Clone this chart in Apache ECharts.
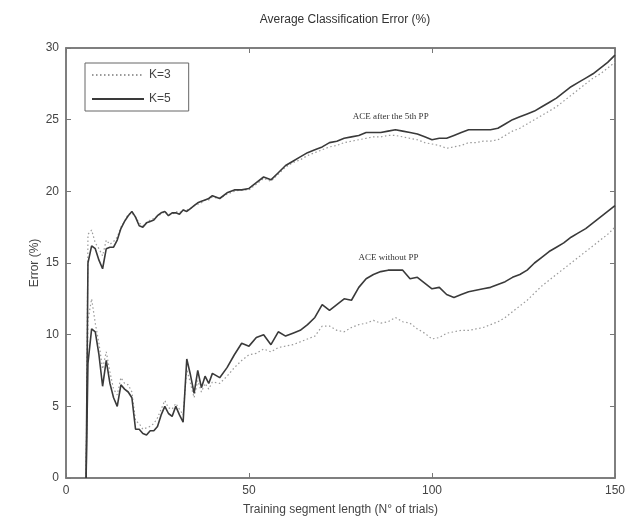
<!DOCTYPE html>
<html>
<head>
<meta charset="utf-8">
<script src="https://cdn.jsdelivr.net/npm/echarts@6/dist/echarts.min.js"></script>
<style>html,body{margin:0;padding:0;background:#fff;}#c{width:628px;height:527px;}</style>
</head>
<body>
<div id="c"></div>
<script>
const xVals = [5.5,6,7,8,9,10,11,12,13,14,15,16,17,18,19,20,21,22,23,24,25,26,27,28,29,30,31,32,33,34,35,36,37,38,39,40,
  42,44,46,48,50,52,54,56,58,60,62,64,66,68,70,72,74,76,78,80,82,84,86,88,90,92,94,96,98,100,102,104,106,108,110,
  112,114,116,118,120,122,124,126,128,130,132,134,136,138,140,142,144,146,148,150];

const upperK5 = [0,15.0,16.2,16.0,15.2,14.6,16.0,16.1,16.1,16.6,17.4,17.9,18.3,18.6,18.2,17.6,17.5,17.8,17.9,18.0,18.3,18.5,18.6,18.3,18.5,18.5,18.4,18.7,18.6,18.8,19.0,19.2,19.3,19.4,19.5,19.7,
  19.5,19.9,20.1,20.1,20.2,20.6,21.0,20.8,21.3,21.8,22.1,22.4,22.7,22.9,23.1,23.4,23.5,23.7,23.8,23.9,24.1,24.1,24.1,24.2,24.3,24.2,24.1,24.0,23.8,23.6,23.7,23.7,23.9,24.1,24.3,
  24.3,24.3,24.3,24.4,24.7,25.0,25.2,25.4,25.6,25.9,26.2,26.5,26.9,27.3,27.6,27.9,28.2,28.6,29.0,29.5];

const upperK3 = [0,17.0,17.3,16.4,16.0,15.5,16.6,16.3,16.5,16.8,17.5,17.9,18.4,18.5,18.2,17.8,17.6,17.8,18.0,18.1,18.3,18.4,18.6,18.4,18.4,18.6,18.5,18.7,18.7,18.8,19.0,19.1,19.2,19.4,19.4,19.6,
  19.5,19.8,20.0,20.1,20.1,20.5,20.9,20.7,21.2,21.7,22.0,22.2,22.5,22.7,22.9,23.1,23.2,23.4,23.5,23.6,23.7,23.8,23.8,23.9,23.9,23.8,23.7,23.6,23.4,23.3,23.2,23.0,23.1,23.2,23.4,
  23.4,23.5,23.5,23.6,23.9,24.2,24.4,24.7,25.0,25.3,25.6,25.9,26.3,26.7,27.1,27.5,27.9,28.2,28.6,29.0];

const lowerK5 = [0,8.0,10.4,10.2,8.6,6.4,8.2,6.6,5.6,5.0,6.5,6.2,6.0,5.6,3.4,3.4,3.1,3.0,3.3,3.3,3.6,4.4,5.0,4.5,4.3,5.0,4.4,3.9,8.3,7.2,5.9,7.5,6.3,7.1,6.6,7.3,
  7.0,7.7,8.6,9.4,9.2,9.8,10.0,9.3,10.2,9.9,10.1,10.3,10.7,11.2,12.1,11.7,12.1,12.5,12.4,13.3,13.9,14.2,14.4,14.5,14.5,14.5,13.9,14.0,13.6,13.2,13.3,12.8,12.6,12.8,13.0,
  13.1,13.2,13.3,13.5,13.7,14.0,14.2,14.5,15.0,15.4,15.8,16.1,16.4,16.8,17.1,17.4,17.8,18.2,18.6,19.0];

const lowerK3 = [0,11.0,12.5,10.8,9.4,7.6,8.8,7.4,6.2,5.8,7.0,6.6,6.5,6.0,4.0,3.8,3.4,3.5,3.6,3.8,4.2,4.8,5.4,4.9,4.8,5.2,4.8,4.4,7.6,6.6,5.6,6.8,6.0,6.6,6.2,6.7,
  6.6,7.1,7.7,8.2,8.6,8.7,9.0,8.8,9.1,9.2,9.3,9.5,9.7,9.9,10.6,10.6,10.3,10.2,10.5,10.7,10.8,11.0,10.8,10.9,11.2,10.9,10.8,10.4,10.1,9.7,9.8,10.1,10.2,10.3,10.3,
  10.4,10.5,10.7,10.9,11.2,11.6,12.0,12.4,12.9,13.4,13.8,14.2,14.6,15.0,15.4,15.8,16.2,16.6,17.0,17.5];

const xTicks = [0, 50, 100, 150];
const yTicks = [0, 5, 10, 15, 20, 25, 30];
const seriesNames = ['K=3', 'K=5'];
const annotations = [
  {text: 'ACE after the 5th PP', x: 88.7, y: 25.2},
  {text: 'ACE without PP', x: 88.1, y: 15.35}
];
const titleText = 'Average Classification Error (%)';
const xName = 'Training segment length (N° of trials)';
const yName = 'Error (%)';

const pair = (ys) => xVals.map((x, i) => [x, ys[i]]);

const SANS = 'Liberation Sans, Arial, sans-serif';
const SERIF = 'Liberation Serif, Times New Roman, serif';
const K3Style = {color: '#9a9a9a', width: 1.2, type: [1.5, 2.5]};
const K5Style = {color: '#3a3a3a', width: 1.6, type: 'solid'};

const axisCommon = {
  axisLine: {show: true, onZero: false, lineStyle: {color: '#777', width: 1.5}},
  axisTick: {show: true, inside: true, length: 5, lineStyle: {color: '#777', width: 1}},
  splitLine: {show: false}
};

function annot(a) {
  return {
    symbol: 'rect', symbolSize: 1, silent: true,
    itemStyle: {color: 'rgba(0,0,0,0)'},
    data: [{coord: [a.x, a.y], value: a.text,
      label: {show: true, position: 'inside', formatter: a.text, fontFamily: SERIF, fontSize: 9, color: '#333'}}]
  };
}

const chart = echarts.init(document.getElementById('c'), null, {renderer: 'canvas'});
chart.setOption({
  animation: false,
  backgroundColor: '#fff',
  title: {
    text: titleText, left: 340, top: 9, textAlign: 'center',
    textStyle: {fontFamily: SANS, fontSize: 12, fontWeight: 'normal', color: '#333'}
  },
  grid: {left: 66, right: 13, top: 48, bottom: 49, show: true, borderColor: '#777', borderWidth: 1.5, backgroundColor: '#fff'},
  legend: {
    data: seriesNames, orient: 'vertical', left: 85, top: 63,
    borderColor: '#666', borderWidth: 1, padding: [6, 18, 6, 6],
    itemWidth: 52, itemHeight: 10, itemGap: 12,
    itemStyle: {opacity: 0},
    textStyle: {fontFamily: SANS, fontSize: 12, color: '#444'}
  },
  xAxis: [
    Object.assign({
      type: 'value', min: 0, max: 150, interval: 50, position: 'bottom',
      name: xName, nameLocation: 'middle', nameGap: 26, nameMoveOverlap: false,
      nameTextStyle: {fontFamily: SANS, fontSize: 12, color: '#444'},
      axisLabel: {fontFamily: SANS, fontSize: 12, color: '#444', margin: 7,
        formatter: v => xTicks.includes(v) ? String(v) : ''}
    }, axisCommon),
    Object.assign({
      type: 'value', min: 0, max: 150, interval: 50, position: 'top', axisLabel: {show: false}
    }, axisCommon)
  ],
  yAxis: [
    Object.assign({
      type: 'value', min: 0, max: 30, interval: 5, position: 'left',
      name: yName, nameLocation: 'middle', nameGap: 25, nameRotate: 90, nameMoveOverlap: false,
      nameTextStyle: {fontFamily: SANS, fontSize: 12, color: '#444'},
      axisLabel: {fontFamily: SANS, fontSize: 12, color: '#444', margin: 7,
        formatter: v => yTicks.includes(v) ? String(v) : ''}
    }, axisCommon),
    Object.assign({
      type: 'value', min: 0, max: 30, interval: 5, position: 'right', axisLabel: {show: false}
    }, axisCommon)
  ],
  series: [
    {name: 'K=3', type: 'line', data: pair(upperK3), showSymbol: false, symbol: 'none', lineStyle: K3Style, itemStyle: {color: K3Style.color}, z: 2},
    {name: 'K=3', type: 'line', data: pair(lowerK3), showSymbol: false, symbol: 'none', lineStyle: K3Style, itemStyle: {color: K3Style.color}, z: 2},
    {name: 'K=5', type: 'line', data: pair(upperK5), showSymbol: false, symbol: 'none', lineStyle: K5Style, itemStyle: {color: K5Style.color}, z: 3,
      markPoint: annot(annotations[0])},
    {name: 'K=5', type: 'line', data: pair(lowerK5), showSymbol: false, symbol: 'none', lineStyle: K5Style, itemStyle: {color: K5Style.color}, z: 3,
      markPoint: annot(annotations[1])},
    {type: 'line', xAxisIndex: 1, yAxisIndex: 1, data: [], silent: true}
  ]
});
</script>
</body>
</html>
